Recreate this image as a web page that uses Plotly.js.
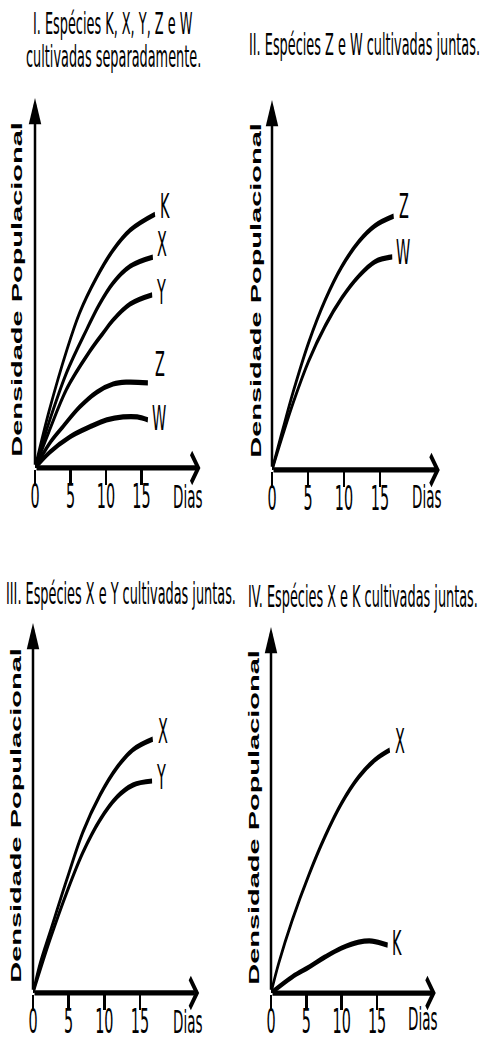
<!DOCTYPE html>
<html>
<head>
<meta charset="utf-8">
<script src="https://cdn.plot.ly/plotly-3.0.1.min.js"></script>
<style>
  html, body { margin: 0; padding: 0; background: #fff; overflow: hidden; }
  #wrap { width: 484px; height: 1041px; overflow: hidden; position: relative; background: #fff; }
  #plot { width: 484px; height: 496px; transform: scale(1, 2.098790); transform-origin: 0 0; }
</style>
</head>
<body>
<div id="wrap"><div id="plot"></div></div>
<script>
// ---------------- DATA ----------------
const dayTicks = [0, 5, 10, 15];
const dayTickText = ['0', '5', '10', '15'];
const xAxisLabel = 'Dias';
const yAxisLabel = 'Densidade Populacional';

const panelTitles = [
  ['I. Espécies K, X, Y, Z e W', 'cultivadas separadamente.'],
  ['II. Espécies Z e W cultivadas juntas.'],
  ['III. Espécies X e Y cultivadas juntas.'],
  ['IV. Espécies X e K cultivadas juntas.']
];

// Panel I – species grown separately
const p1K_days = [0, 2, 4.5, 6.3, 8.7, 11, 13.4, 16.9];
const p1K_dens = [0, 15.5, 32, 42, 51.6, 58.9, 64.3, 68.6];
const p1X_days = [0, 2, 4.5, 7.3, 9, 11, 13.4, 16.6];
const p1X_dens = [0, 12.5, 26, 37.5, 44, 50, 54.5, 57];
const p1Y_days = [0, 2, 4.5, 7.7, 9.6, 11, 13.4, 16.5];
const p1Y_dens = [0, 10, 21.5, 31.5, 36.5, 40, 44.3, 46.8];
const p1Z_days = [0, 2.1, 3.9, 6.3, 8.7, 11, 13, 15.9];
const p1Z_dens = [0, 6.8, 11.1, 16.5, 20.5, 22.7, 23.2, 23];
const p1W_days = [0, 2.1, 4.9, 7.7, 10.1, 12.4, 14.4, 15.9];
const p1W_dens = [0, 4.3, 8.4, 11.1, 13, 13.8, 13.8, 13];

// Panel II – Z and W together
const p2Z_days = [0, 1.5, 3, 5.1, 7.4, 9.7, 12.1, 14.3, 16.9];
const p2Z_dens = [0, 11, 21.5, 34.5, 46, 55, 61.8, 66, 68.6];
const p2W_days = [0, 1.5, 3, 5.1, 7.4, 9.7, 12.1, 14.3, 16.7];
const p2W_dens = [0, 9.5, 18.5, 29.5, 39, 46.5, 52.5, 56.3, 57.6];

// Panel III – X and Y together
const p3X_days = [0, 1, 2.4, 4.8, 7, 9.4, 11.8, 14, 16.8];
const p3X_dens = [0, 8, 16.5, 31, 43.5, 53.5, 61, 65.7, 68.6];
const p3Y_days = [0, 2.4, 4.8, 7, 9.4, 11.8, 14, 16.7];
const p3Y_dens = [0, 14.5, 27.5, 38, 46.8, 53, 56.2, 57.3];

// Panel IV – X and K together
const p4X_days = [0, 1.1, 3, 5.4, 7.6, 10, 12.4, 14.7, 16.8];
const p4X_dens = [0, 8.2, 19.9, 32.5, 42.6, 51.9, 59, 63.7, 66.4];
const p4K_days = [0, 3, 5.4, 7.6, 10, 12.4, 14.3, 16.5];
const p4K_dens = [0, 4.4, 7.1, 9.8, 12.3, 13.9, 14.2, 13.1];

// ---------------- STYLE / LAYOUT ----------------
const W = 484, H = 1041, H0 = 496, S = H / H0;
const NARROW = "'Liberation Sans Narrow', 'Arial Narrow', 'DejaVu Sans Condensed', sans-serif";
const SANS = "'Liberation Sans', Arial, sans-serif";
const XMAX = 23.3;
const px = v => v / W;
const py = v => 1 - v / H;

// panel geometry in reference pixels: origin x, origin y, top of y arrow, px per day
const panels = [
  {ox: 35,  oy: 468, top: 98,  ppd: 7.1},
  {ox: 272, oy: 470, top: 100, ppd: 7.2},
  {ox: 33,  oy: 993, top: 623, ppd: 7.13},
  {ox: 271, oy: 993, top: 627, ppd: 7.07}
];

const series = [
  {p: 0, name: 'K', x: p1K_days, y: p1K_dens, dx: 10, dy: 8},
  {p: 0, name: 'X', x: p1X_days, y: p1X_dens, dx: 9,  dy: 12},
  {p: 0, name: 'Y', x: p1Y_days, y: p1Y_dens, dx: 9,  dy: 3},
  {p: 0, name: 'Z', x: p1Z_days, y: p1Z_dens, dx: 12, dy: 18},
  {p: 0, name: 'W', x: p1W_days, y: p1W_dens, dx: 11, dy: 2},
  {p: 1, name: 'Z', x: p2Z_days, y: p2Z_dens, dx: 10, dy: 10},
  {p: 1, name: 'W', x: p2W_days, y: p2W_dens, dx: 11, dy: 4},
  {p: 2, name: 'X', x: p3X_days, y: p3X_dens, dx: 10, dy: 7},
  {p: 2, name: 'Y', x: p3Y_days, y: p3Y_dens, dx: 9,  dy: 3},
  {p: 3, name: 'X', x: p4X_days, y: p4X_dens, dx: 10, dy: 8},
  {p: 3, name: 'K', x: p4K_days, y: p4K_dens, dx: 9,  dy: 2}
];

const axisSuffix = i => (i === 0 ? '' : String(i + 1));

const traces = series.map(s => ({
  type: 'scatter', mode: 'lines',
  x: s.x, y: s.y,
  xaxis: 'x' + axisSuffix(s.p), yaxis: 'y' + axisSuffix(s.p),
  line: {color: '#000', width: 2.5, shape: 'spline', smoothing: 1},
  hoverinfo: 'skip', showlegend: false
}));

const layout = {
  width: W, height: H0,
  margin: {l: 0, r: 0, t: 0, b: 0},
  paper_bgcolor: '#fff', plot_bgcolor: 'rgba(0,0,0,0)',
  showlegend: false,
  annotations: []
};

panels.forEach((g, i) => {
  const sfx = axisSuffix(i);
  layout['xaxis' + sfx] = {
    domain: [px(g.ox), px(g.ox + XMAX * g.ppd)],
    range: [0, XMAX], anchor: 'y' + sfx,
    showgrid: false, zeroline: false, showline: false,
    ticks: 'outside', ticklen: 7, tickwidth: 2.5, tickcolor: '#000',
    ticklabelstandoff: -8,
    tickvals: dayTicks, ticktext: dayTickText,
    tickfont: {family: NARROW, size: 16, color: '#000'},
    fixedrange: true
  };
  layout['yaxis' + sfx] = {
    domain: [py(g.oy), py(g.top)],
    range: [0, 100], anchor: 'x' + sfx,
    showgrid: false, zeroline: false, showline: false,
    showticklabels: false, ticks: '', fixedrange: true
  };
  // axis arrows
  layout.annotations.push({
    xref: 'x' + sfx, yref: 'y' + sfx, axref: 'x' + sfx, ayref: 'y' + sfx,
    x: XMAX, y: 0, ax: 0, ay: 0, text: '', showarrow: true,
    arrowhead: 4, arrowsize: 1.1, arrowwidth: 2.5, arrowcolor: '#000'
  });
  layout.annotations.push({
    xref: 'x' + sfx, yref: 'y' + sfx, axref: 'x' + sfx, ayref: 'y' + sfx,
    x: 0, y: 100, ax: 0, ay: 0, text: '', showarrow: true,
    arrowhead: 2, arrowsize: 1.0, arrowwidth: 2.5, arrowcolor: '#000'
  });
});

// curve labels at the end of each series
series.forEach(s => {
  const sfx = axisSuffix(s.p);
  const n = s.x.length - 1;
  layout.annotations.push({
    xref: 'x' + sfx, yref: 'y' + sfx, x: s.x[n], y: s.y[n],
    xshift: s.dx, yshift: s.dy / S,
    text: s.name, showarrow: false, xanchor: 'center', yanchor: 'middle',
    font: {family: NARROW, size: 16, color: '#000'}
  });
});

// titles
const titlePos = [
  [[113, 24], [113, 57]],
  [[364, 44]],
  [[121, 594]],
  [[363, 596]]
];
panelTitles.forEach((lines, i) => {
  lines.forEach((t, j) => {
    layout.annotations.push({
      xref: 'paper', yref: 'paper', x: px(titlePos[i][j][0]), y: py(titlePos[i][j][1]),
      text: t, showarrow: false, xanchor: 'center', yanchor: 'middle',
      font: {family: NARROW, size: 14.3, color: '#000'}
    });
  });
});

// "Dias" labels
[[187, 498], [426, 497], [187, 1023], [422, 1020]].forEach(p => {
  layout.annotations.push({
    xref: 'paper', yref: 'paper', x: px(p[0]), y: py(p[1]),
    text: xAxisLabel, showarrow: false, xanchor: 'center', yanchor: 'middle',
    font: {family: NARROW, size: 15, color: '#000'}
  });
});

// y-axis titles
[[18, 291], [256, 292], [16, 817], [254, 819]].forEach(p => {
  layout.annotations.push({
    xref: 'paper', yref: 'paper', x: px(p[0]), y: py(p[1]),
    text: '<b>' + yAxisLabel + '</b>', showarrow: false, textangle: -90,
    xanchor: 'center', yanchor: 'middle',
    font: {family: SANS, size: 13.8, color: '#000'}
  });
});

Plotly.newPlot('plot', traces, layout, {staticPlot: true, displayModeBar: false});
</script>
</body>
</html>
